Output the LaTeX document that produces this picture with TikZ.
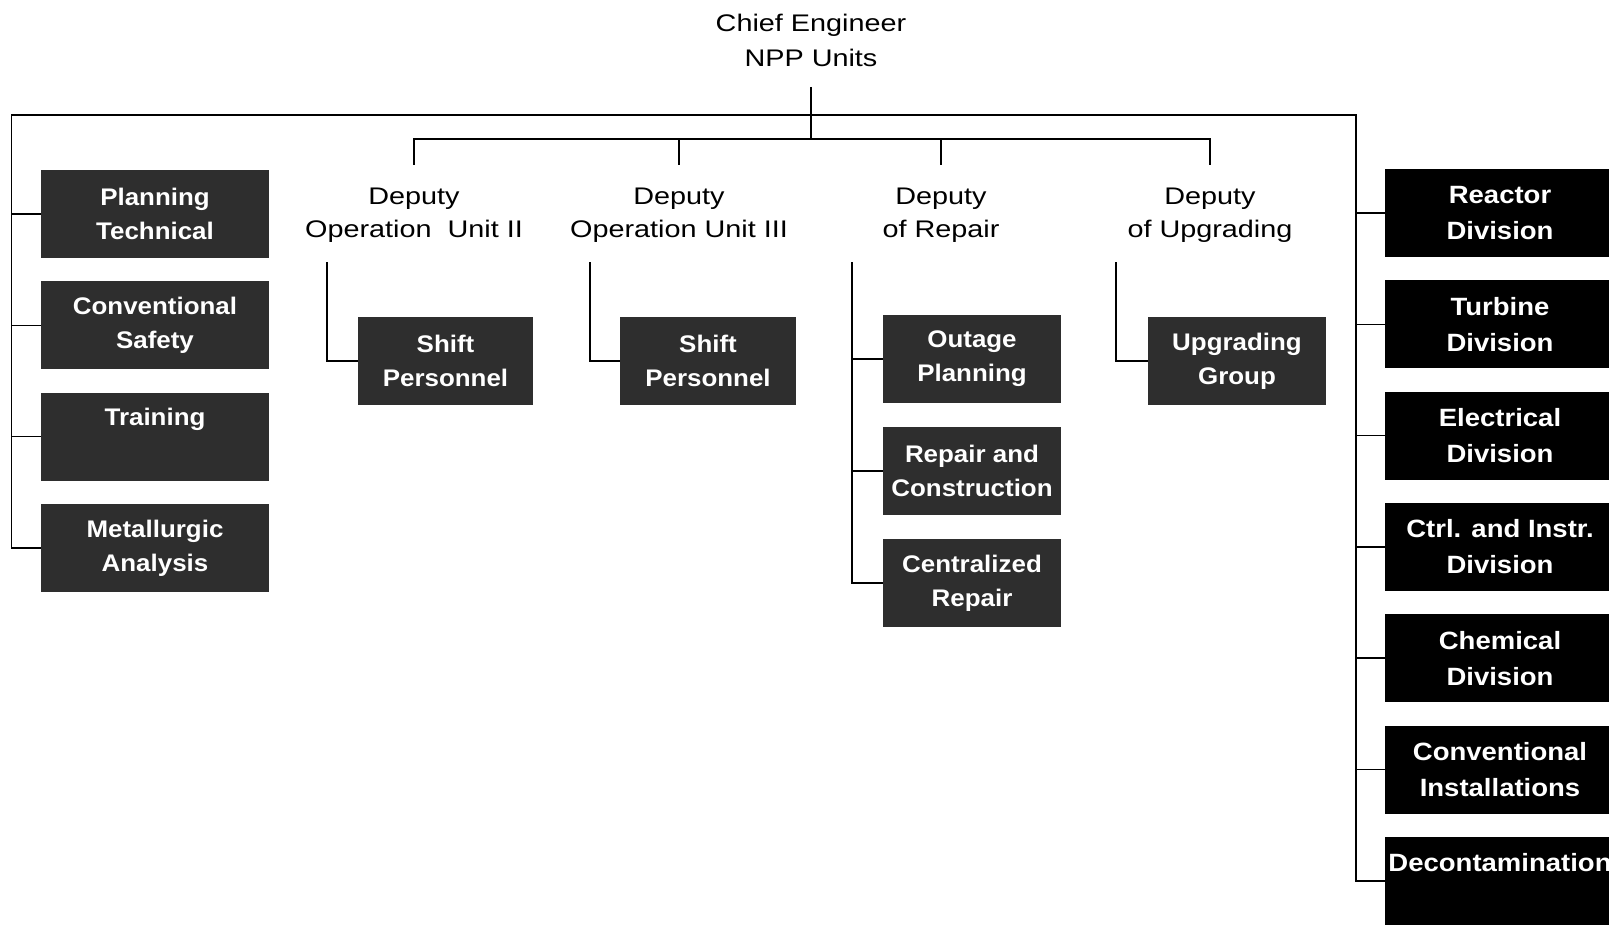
\documentclass[tikz,border=0pt]{standalone}
\usepackage{fontspec}
\setmainfont{Liberation Sans}
\newfontfamily\deputyfont[FakeStretch=1.2]{Liberation Sans}
\newfontfamily\boxfont[FakeStretch=1.08]{Liberation Sans}
\newfontfamily\divfont[FakeStretch=1.1]{Liberation Sans}
\tikzset{
  orgline/.style={line width=1.6pt},
  subline/.style={line width=1.3pt},
  deputy/.style={align=center, inner xsep=0pt, inner ysep=23pt, font=\deputyfont\fontsize{24}{33}\selectfont},
  staffbox/.style={fill=black!82, text=white, align=center, minimum width=228pt, minimum height=88pt, inner sep=0pt, font=\boxfont\bfseries\fontsize{24}{34}\selectfont},
  divbox/.style={fill=black, text=white, align=center, minimum width=230pt, minimum height=88pt, inner sep=0pt, font=\divfont\bfseries\fontsize{25}{36}\selectfont}
}
\begin{document}
\begin{tikzpicture}[x=1pt,y=-1pt]
\useasboundingbox (0,0) rectangle (1609,928);
\node[deputy, anchor=south, inner ysep=20pt, font=\deputyfont\fontsize{24}{35}\selectfont] (chief) at (811,87) {Chief Engineer\\NPP Units};
\coordinate (bus1) at (811,115);
\coordinate (bus2) at (811,139);
\coordinate (lspine) at (11.5,115);
\coordinate (rspine) at (1356,115);
\node[deputy, anchor=north] (depII) at (414,165) {Deputy\\Operation\ \ Unit II};
\node[deputy, anchor=north] (depIII) at (679,165) {Deputy\\Operation Unit III};
\node[deputy, anchor=north] (deprep) at (941,165) {Deputy\\of Repair};
\node[deputy, anchor=north] (depupg) at (1210,165) {Deputy\\of Upgrading};
\foreach \nm/\txt [count=\i from 0] in {plan/{Planning\\Technical}, csafe/{Conventional\\Safety}, train/{Training\\\phantom{Safety}}, metal/{Metallurgic\\Analysis}}
  \node[staffbox] (\nm) at (155,214+111.3*\i) {\txt};
\foreach \nm/\txt [count=\i from 0] in {react/{Reactor\\Division}, turb/{Turbine\\Division}, elec/{Electrical\\Division}, ctrl/{Ctrl. and Instr.\\Division}, chem/{Chemical\\Division}, convi/{Conventional\\Installations}, decon/{Decontamination\\\phantom{Division}}}
  \node[divbox] (\nm) at (1500,213+111.3*\i) {\txt};
\node[staffbox, minimum width=175pt] (shiftII) at (445.5,361) {Shift\\Personnel};
\node[staffbox, minimum width=176pt] (shiftIII) at (708,361) {Shift\\Personnel};
\node[staffbox, minimum width=178pt] (outage) at (972,359) {Outage\\Planning};
\node[staffbox, minimum width=178pt] (repcon) at (972,471) {Repair and\\Construction};
\node[staffbox, minimum width=178pt] (centrep) at (972,583) {Centralized\\Repair};
\node[staffbox, minimum width=178pt] (upggrp) at (1237,361) {Upgrading\\Group};
\draw[orgline] (chief.south) -- (bus2);
\draw[orgline] (metal.west) -| (lspine) -- (rspine) |- (decon.west);
\foreach \nm in {plan,csafe,train} \draw[orgline] (\nm.west) -- (\nm.west -| lspine);
\foreach \nm in {react,turb,elec,ctrl,chem,convi} \draw[orgline] (\nm.west) -- (\nm.west -| rspine);
\draw[orgline] (depII.north) |- (bus2) -| (depupg.north);
\foreach \nm in {depIII,deprep} \draw[orgline] (\nm.north) -- (\nm.north |- bus2);
\coordinate (subII) at (327,262);
\coordinate (subIII) at (590,262);
\coordinate (subrep) at (852,262);
\coordinate (subupg) at (1116,262);
\draw[subline] (subII) |- (shiftII.west);
\draw[subline] (subIII) |- (shiftIII.west);
\draw[subline] (subrep) |- (centrep.west);
\foreach \nm in {outage,repcon} \draw[subline] (\nm.west) -- (\nm.west -| subrep);
\draw[subline] (subupg) |- (upggrp.west);
\end{tikzpicture}
\end{document}
